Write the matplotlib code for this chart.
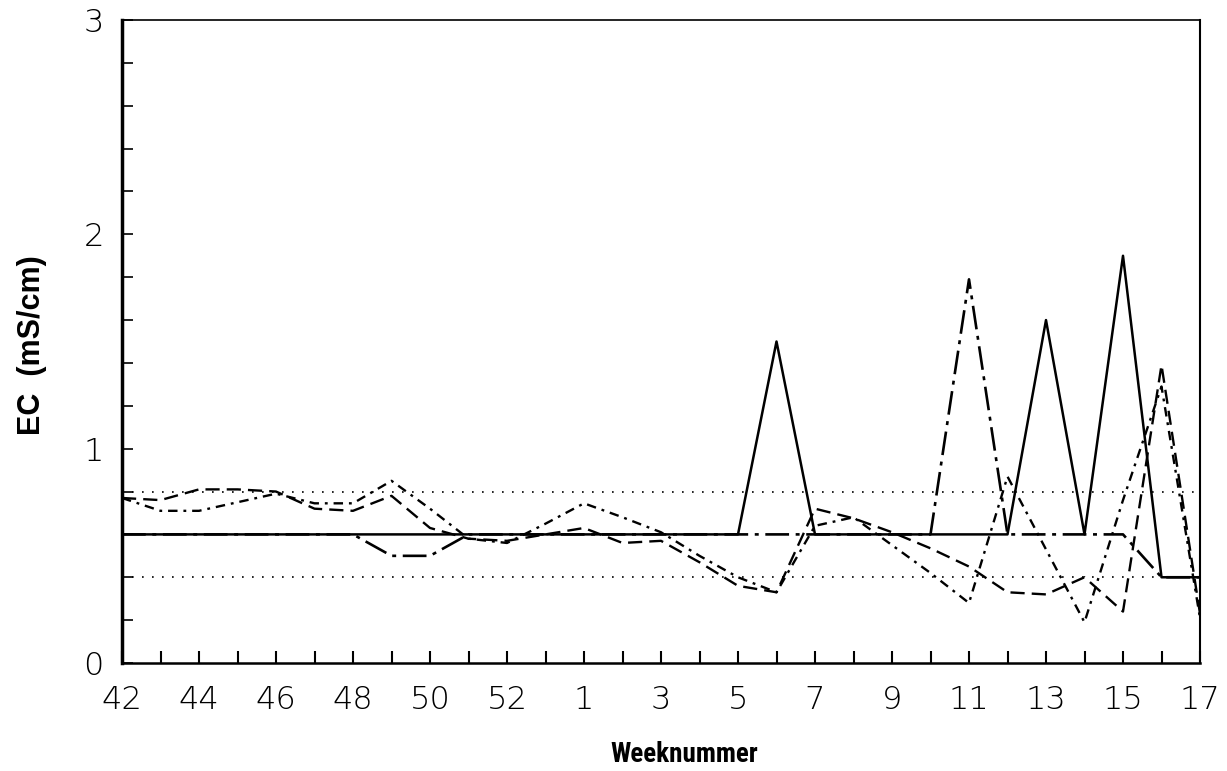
import matplotlib
matplotlib.use("Agg")
import matplotlib.pyplot as plt
from matplotlib import font_manager as fm
import numpy as np

# ---- data ----
weeks = [42, 43, 44, 45, 46, 47, 48, 49, 50, 51, 52, 53,
         1, 2, 3, 4, 5, 6, 7, 8, 9, 10, 11, 12, 13, 14, 15, 16, 17]

serie_solid = [0.6, 0.6, 0.6, 0.6, 0.6, 0.6, 0.6, 0.6, 0.6, 0.6, 0.6, 0.6,
               0.6, 0.6, 0.6, 0.6, 0.6, 1.5, 0.6, 0.6, 0.6, 0.6, 0.6, 0.6,
               1.6, 0.6, 1.9, 0.4, 0.4]
serie_longdashdot = [0.6, 0.6, 0.6, 0.6, 0.6, 0.6, 0.6, 0.5, 0.5, 0.6, 0.6, 0.6,
                     0.6, 0.6, 0.6, 0.6, 0.6, 0.6, 0.6, 0.6, 0.6, 0.6, 1.79, 0.6,
                     0.6, 0.6, 0.6, 0.4, 0.4]
serie_dashdot = [0.77, 0.71, 0.71, 0.75, 0.79, 0.745, 0.745, 0.85, 0.72, 0.58, 0.56, 0.65,
                 0.745, 0.68, 0.61, 0.5, 0.4, 0.33, 0.64, 0.68, 0.55, 0.42, 0.28, 0.87,
                 0.53, 0.19, 0.76, 1.29, 0.21]
serie_dashed = [0.77, 0.76, 0.81, 0.81, 0.8, 0.72, 0.71, 0.78, 0.63, 0.58, 0.57, 0.6,
                0.63, 0.56, 0.57, 0.47, 0.36, 0.33, 0.72, 0.675, 0.61, 0.535, 0.45, 0.33,
                0.32, 0.40, 0.24, 1.39, 0.23]
ref_upper = 0.8
ref_lower = 0.4

ytick_values = [0, 1, 2, 3]

# ---- fonts ----
installed = {f.name for f in fm.fontManager.ttflist}
narrow = None
for cand in ["Liberation Sans Narrow", "Arial Narrow", "Roboto Condensed",
             "Open Sans Condensed", "DejaVu Sans Condensed"]:
    if cand in installed:
        narrow = cand
        break
if narrow:
    xlabel_font = {"family": [narrow, "Liberation Sans", "DejaVu Sans"],
                   "weight": "bold", "size": 19.5}
else:
    xlabel_font = {"family": ["Liberation Sans", "DejaVu Sans"],
                   "weight": "bold", "size": 16}
ylabel_font = {"family": ["Liberation Sans", "DejaVu Sans"], "weight": "bold", "size": 22}

# ---- figure ----
fig = plt.figure(figsize=(12.27, 7.71), dpi=100)
ax = fig.add_axes([122 / 1227, 1 - 663 / 771, (1200 - 122) / 1227, (663 - 20) / 771])

x = np.arange(len(weeks))

ax.axhline(ref_upper, color="black", lw=1.2, linestyle=(0, (1, 5)))
ax.axhline(ref_lower, color="black", lw=1.2, linestyle=(0, (1, 5)))

ax.plot(x, serie_longdashdot, color="black", lw=1.9, linestyle=(0, (9, 2.5, 1.5, 2.5)))
ax.plot(x, serie_solid, color="black", lw=1.8, linestyle="-")
ax.plot(x, serie_dashdot, color="black", lw=1.7, linestyle=(0, (4, 2.5, 1.2, 2.5)))
ax.plot(x, serie_dashed, color="black", lw=1.7, linestyle=(0, (6, 3)))

ax.set_xlim(0, len(weeks) - 1)
ax.set_ylim(0, 3)

ax.set_xticks(x)
ax.set_xticklabels([str(w) if i % 2 == 0 else "" for i, w in enumerate(weeks)])
ax.set_yticks(ytick_values)
ax.set_yticks(np.arange(0, 3.0001, 0.2), minor=True)
ax.set_yticklabels([str(v) for v in ytick_values])

ax.tick_params(axis="x", direction="in", length=9, width=1.5, pad=16,
               labelsize=23, bottom=True, top=False)
ax.tick_params(axis="y", which="both", direction="in", length=8, width=1.2,
               left=True, right=False)
ax.tick_params(axis="y", which="major", pad=13, labelsize=23)
for lab in ax.get_xticklabels() + ax.get_yticklabels():
    lab.set_fontweight("light")

for side, w in [("left", 2.5), ("bottom", 1.8), ("right", 1.5), ("top", 1.2)]:
    ax.spines[side].set_linewidth(w)

ax.set_xlabel("Weeknummer", fontdict=xlabel_font)
ax.xaxis.set_label_coords((684 - 122) / 1078, (663 - 754) / 643)
ax.xaxis.label.set_va("center")
ax.set_ylabel("EC  (mS/cm)", fontdict=ylabel_font)
ax.yaxis.set_label_coords((32 - 122) / 1078, (663 - 345) / 643)
ax.yaxis.label.set_va("center")

fig.savefig("out.png", dpi=100)
